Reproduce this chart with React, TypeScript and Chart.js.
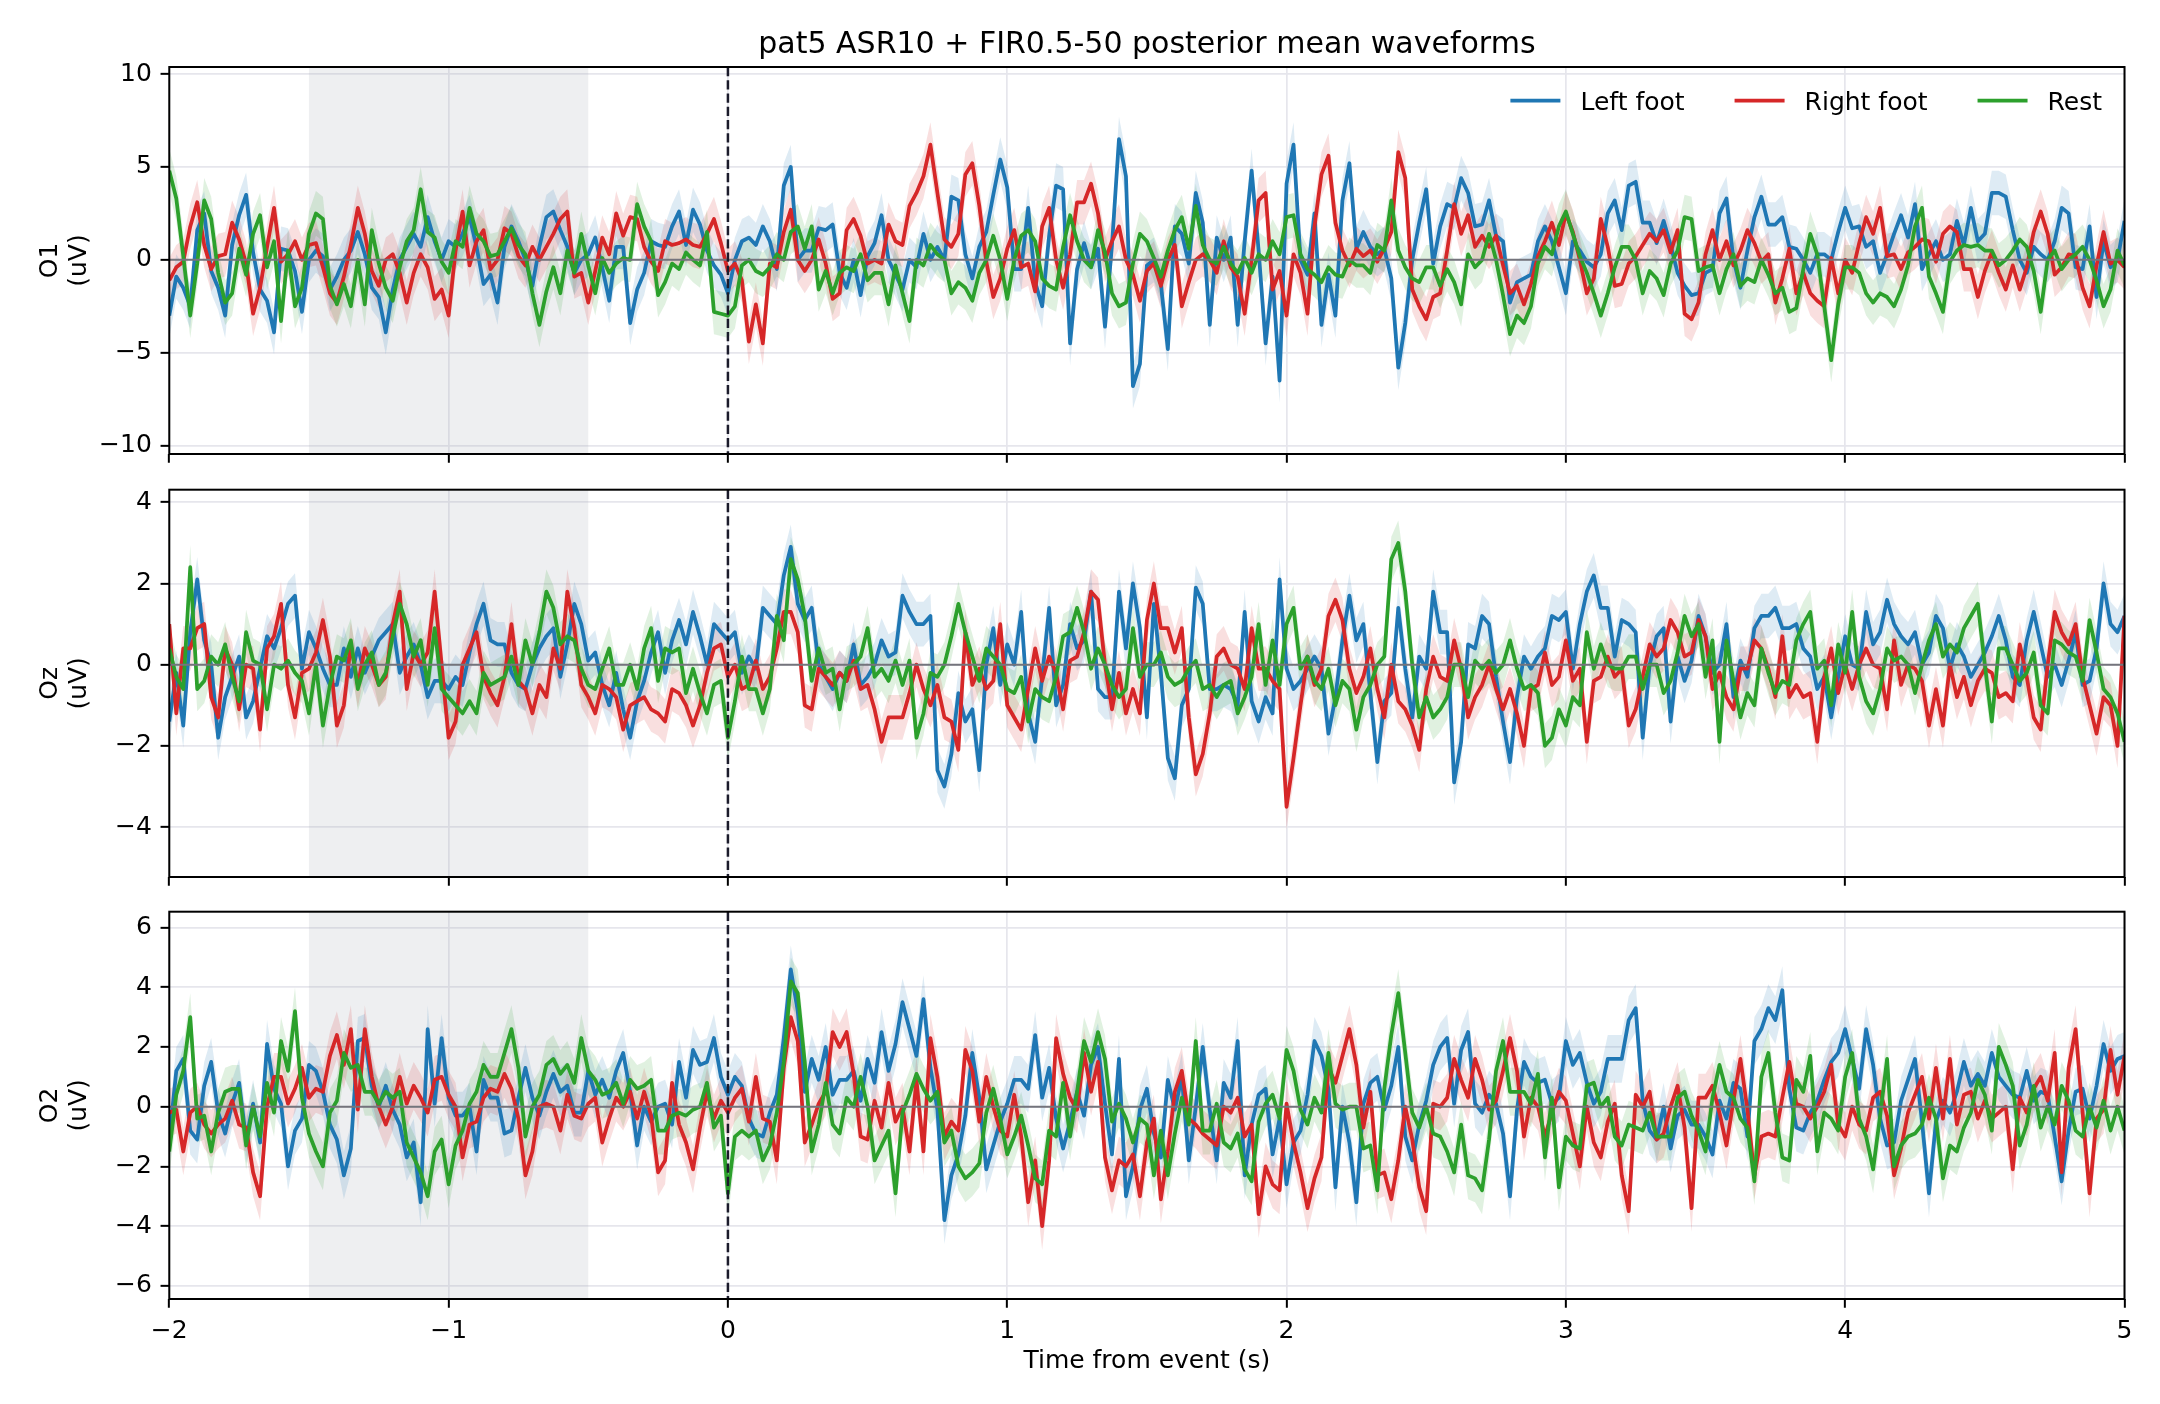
import { useEffect, useRef } from "react";
import { Chart, registerables } from "chart.js";

Chart.register(...registerables);

const FONT = "'DejaVu Sans', 'Liberation Sans', sans-serif";
Chart.defaults.font.family = FONT;
Chart.defaults.color = "#000";

const TITLE = "pat5 ASR10 + FIR0.5-50 posterior mean waveforms";
const X_LABEL = "Time from event (s)";
const UNIT_LABEL = "(uV)";
const CONDITIONS = ["Left foot", "Right foot", "Rest"];
const LINE_COLORS = ["#1f77b4", "#d62728", "#2ca02c"];
const BAND_COLORS = ["rgba(31,119,180,0.15)", "rgba(214,39,40,0.15)", "rgba(44,160,44,0.15)"];

// sampling grid of the averaged epochs (seconds)
const T_START = -2;
const T_STEP = 0.025;
const X_MIN = -2;
const X_MAX = 5;
const X_TICKS = [-2, -1, 0, 1, 2, 3, 4, 5];
const BASELINE_WINDOW = [-1.5, -0.5];
const EVENT_TIME = 0;

// channel O1
const O1_LEFT = [
  -3.0, -0.9, -1.5, -2.5, 1.6, 2.5, -0.6, -1.5, -3.0, 0.8,
  2.4, 3.5, 0.4, -1.6, -2.2, -3.9, 0.6, 0.5, -0.6, -2.8,
  0.0, 0.5, 0.2, -1.6, -0.9, 0.0, 0.5, 1.5, 0.3, -1.5,
  -2.0, -3.9, -1.6, 0.0, 0.7, 1.4, 0.7, 2.3, 1.0, 0.0,
  1.0, 0.7, 1.4, 2.3, 0.7, -1.3, -0.8, -2.3, 0.7, 1.8,
  1.0, 0.0, -1.4, 0.7, 2.3, 2.6, 1.6, 0.7, -0.7, 0.0,
  0.3, 1.2, -0.4, -2.2, 0.7, 0.7, -3.4, -1.6, -0.7, 1.0,
  0.8, 0.7, 1.8, 2.6, 0.8, 2.7, 1.9, 0.5, -0.3, -0.8,
  -1.8, 0.0, 1.0, 1.2, 0.8, 1.8, 1.0, -0.5, 4.0, 5.0,
  0.0, 0.5, 0.5, 1.7, 1.6, 1.9, -0.7, -1.5, 0.0, -1.9,
  0.2, 0.9, 2.4, 0.0, -0.8, -1.6, 0.0, -0.4, 1.4, 0.0,
  0.7, 0.0, 3.4, 3.2, 0.3, -1.0, 0.7, 1.5, 3.5, 5.4,
  3.9, -0.5, -0.5, 2.8, -1.2, -2.5, 1.3, 4.0, 3.8, -4.5,
  -0.5, 0.9, -0.4, 0.6, -3.6, 0.8, 6.5, 4.5, -6.8, -5.6,
  -0.3, 0.0, -1.3, -4.8, 1.8, 1.4, -0.2, 3.6, 2.0, -3.5,
  1.2, 0.0, 1.2, -3.5, 1.0, 4.8, 0.5, -4.5, -0.9, -6.5,
  4.1, 6.2, 0.0, -0.8, 2.5, -3.5, -0.8, -3.0, 3.2, 5.2,
  0.6, 1.5, 0.7, 0.3, 0.6, -1.0, -5.8, -3.4, 0.0, 2.0,
  3.8, -0.2, 1.8, 3.0, 2.8, 4.4, 3.6, 1.8, 1.9, 3.2,
  1.3, 1.0, -2.3, -1.2, -1.0, -0.8, 1.0, 1.8, 1.0, -0.4,
  -1.8, 1.0, 0.5, -0.1, -0.4, 0.3, 2.5, 3.2, 1.6, 4.0,
  4.2, 2.0, 2.0, 0.9, 2.1, 0.8, -0.7, -1.4, -1.9, -1.8,
  -0.7, -0.5, 2.5, 3.3, 0.0, -1.5, 0.5, 2.3, 3.4, 1.9,
  1.9, 2.3, 0.7, 0.6, 0.0, -0.7, 0.3, 0.3, 0.0, 1.5,
  2.8, 1.7, 1.8, 0.7, 1.0, -0.7, 0.3, 1.4, 2.4, 1.2,
  3.0, -0.5, 0.3, 1.0, 0.0, 0.3, 2.1, 0.8, 2.8, 1.0,
  1.4, 3.6, 3.6, 3.4, 1.6, 0.0, -0.7, 0.7, 0.3, 0.0,
  1.0, 2.8, 2.5, -0.4, -0.5, 1.8, -2.0, 1.0, -0.4, 0.0,
  2.1,
];
const O1_RIGHT = [
  -1.1, -0.4, -0.1, 1.8, 3.1, 0.8, -0.5, 0.2, 0.3, 2.0,
  1.1, -0.2, -2.9, -1.5, 0.7, 2.8, -0.1, 0.3, 1.0, 0.0,
  0.8, 0.9, -0.4, -1.8, -2.3, -0.9, 0.8, 2.8, 1.4, -0.6,
  -1.4, 0.0, 0.3, -0.7, -2.3, -0.7, 0.3, -0.4, -2.1, -1.6,
  -3.0, 0.5, 2.6, -0.3, 1.0, 1.6, -0.5, 0.0, 1.7, 1.4,
  0.2, -0.3, 0.7, 0.0, 0.7, 1.4, 2.2, 2.6, -0.9, -0.7,
  -2.3, -0.6, 1.2, 0.3, 2.5, 1.3, 2.3, 2.2, 0.7, -0.1,
  -0.6, 1.0, 0.8, 0.9, 1.1, 0.8, 0.7, 1.4, 2.2, 0.9,
  -0.6, -0.2, -1.1, -4.4, -2.4, -4.5, -0.2, -0.4, 1.5, 2.7,
  0.0, -0.6, 0.0, 1.1, -0.2, -2.1, -1.8, 1.6, 2.2, 1.3,
  -0.2, 0.0, -0.2, 1.9, 1.0, 0.8, 2.9, 3.6, 4.5, 6.2,
  3.6, 1.1, 0.7, 1.4, 4.6, 5.2, 2.9, -0.1, -2.0, -1.0,
  0.6, 1.6, -0.4, -0.2, -1.7, 1.8, 2.8, 0.0, -1.5, 0.3,
  3.1, 3.1, 4.1, 2.5, 0.0, 1.0, 1.8, 0.0, -0.8, -2.2,
  -0.6, -0.2, -1.4, 0.0, 0.8, -2.5, -1.2, 0.0, 0.3, 0.0,
  -0.7, 1.0, -0.4, -0.9, -2.9, 0.0, 3.2, 3.6, -1.6, -0.6,
  -3.0, 0.3, -0.7, -2.9, 1.8, 4.6, 5.6, 2.0, 0.5, -0.3,
  0.6, 0.2, 0.5, -0.1, 0.6, 1.5, 5.8, 4.4, -1.6, -2.5,
  -3.2, -2.0, -1.8, 0.5, 3.0, 1.4, 2.4, 0.7, 1.3, 0.7,
  1.3, -0.3, -1.8, -1.4, -2.4, -1.3, 0.2, 1.0, 2.0, 0.8,
  2.5, 1.5, 0.0, -1.8, -1.0, 2.2, 0.7, -1.4, -1.3, -0.2,
  0.2, 0.8, 1.4, 1.0, 1.6, 0.4, 1.6, -2.9, -3.2, -2.3,
  0.3, 1.6, 0.0, 1.0, -0.3, 0.5, 1.6, 0.9, -0.1, 0.3,
  -2.3, -1.0, 0.6, -1.8, -0.7, -1.8, -2.2, -2.5, 0.1, -1.8,
  0.0, -0.7, 0.9, 2.3, 1.4, 2.8, 0.2, 0.3, -0.5, 0.4,
  0.7, 1.1, 1.0, -0.1, 1.4, 1.8, 1.5, -0.5, -0.5, -2.0,
  -0.6, 0.4, -0.7, -1.6, -0.3, -1.6, -0.4, 1.5, 2.6, 1.4,
  -0.8, -0.4, 0.3, 0.2, -1.5, -2.5, -0.3, 1.5, -0.2, 0.0,
  -0.4,
];
const O1_REST = [
  4.8, 3.3, 0.2, -3.0, -0.2, 3.2, 2.2, -0.7, -2.3, -1.8,
  0.6, -0.8, 1.4, 2.4, -0.4, 1.0, -3.3, 0.5, -2.5, -1.5,
  1.4, 2.5, 2.2, -1.4, -2.4, -1.3, -2.5, 0.0, -2.4, 1.6,
  -0.2, -1.5, -2.2, -0.4, 1.0, 1.6, 3.8, 1.5, 1.2, -0.1,
  -0.7, 1.0, 0.7, 2.8, 1.4, 1.0, 0.2, 0.3, 1.0, 1.7,
  0.8, 0.3, -1.8, -3.5, -1.7, -0.4, -1.8, 0.5, -0.7, 1.4,
  -0.3, -1.8, 0.1, -0.7, -0.2, 0.1, 0.0, 3.0, 1.8, 1.0,
  -1.9, -1.2, -0.2, -0.5, 0.4, 0.0, -0.3, 1.5, -2.8, -2.9,
  -3.0, -2.5, -0.3, 0.0, -0.6, -0.8, -0.4, 0.3, 0.0, 1.5,
  1.8, 0.6, 1.8, -1.6, -0.6, -1.8, -0.7, -0.4, -0.6, 0.3,
  -1.1, -0.7, -0.7, -2.4, -0.3, -1.8, -3.3, 0.0, -0.3, 0.8,
  0.3, 0.0, -1.8, -1.2, -1.5, -2.2, -0.7, 0.0, 1.3, 0.0,
  -2.1, 0.0, 1.3, 1.6, 1.0, -1.0, -1.4, -1.6, 0.7, 2.4,
  1.0, 0.0, -0.4, 1.6, 0.4, -1.8, -2.5, -2.3, -0.2, 1.4,
  1.0, 0.1, -0.9, 0.5, 1.6, 2.3, 0.6, 2.9, 0.8, 0.0,
  -0.2, 0.7, -0.2, -0.7, 0.1, -0.7, 0.3, 0.0, 1.0, 0.3,
  2.3, 2.4, 0.3, -0.5, -0.8, -1.2, -0.4, -0.8, -0.9, 0.0,
  -0.3, -0.3, -0.7, 0.8, 0.5, 3.2, 0.5, -0.4, -1.0, -1.2,
  -0.4, -0.4, -1.4, -0.5, -1.2, -2.4, 0.3, -0.4, 0.0, 1.4,
  0.0, -1.9, -4.0, -3.0, -3.4, -2.5, -0.2, 0.7, 0.3, 1.8,
  2.6, 1.4, 0.2, -0.7, -1.8, -3.0, -1.8, -0.4, 0.7, 0.7,
  0.0, -1.8, -0.6, -1.0, -1.9, -0.2, 0.5, 2.3, 2.2, -0.6,
  -0.4, -0.3, -1.8, -0.5, 0.3, -1.4, -1.0, -1.2, 0.0, -0.8,
  -1.8, -1.5, -2.8, -2.6, -0.5, 1.4, 0.3, -2.5, -5.4, -2.4,
  -0.4, -0.4, -0.7, -1.8, -2.3, -1.8, -2.0, -2.5, -1.6, -0.3,
  1.8, 2.8, -0.9, -1.8, -2.8, -0.1, 0.5, 0.8, 0.7, 0.8,
  0.5, 0.5, -0.3, 0.0, 0.5, 1.1, 0.7, -0.6, -2.8, 0.0,
  0.5, -0.5, 0.0, 0.3, 0.7, 0.0, -1.1, -2.5, -1.6, 0.5,
  -0.3,
];

// channel Oz
const OZ_LEFT = [
  -1.4, -0.2, -1.5, 0.8, 2.1, 0.6, 0.0, -1.8, -0.8, -0.3,
  0.2, -1.3, -0.9, -0.1, 0.7, 0.4, 0.9, 1.5, 1.7, -0.1,
  0.8, 0.4, -0.1, -0.5, -0.5, 0.4, -0.3, 0.4, -0.2, 0.2,
  0.6, 0.8, 1.0, -0.2, 0.2, 0.5, 0.0, -0.8, -0.4, -0.4,
  -0.6, -0.3, -0.5, 0.3, 1.0, 1.5, 0.6, 0.5, 0.5, -0.2,
  -0.5, -0.6, 0.0, 0.4, 0.7, 0.9, -0.3, 0.5, 1.5, 1.0,
  0.1, 0.3, -0.5, -1.0, -0.2, -1.1, -1.8, -0.9, -0.4, 0.3,
  0.8, -0.2, 0.6, 1.1, 0.5, 1.3, 0.7, 0.0, 1.0, 0.8,
  0.6, 0.8, -0.2, 0.2, -0.1, 1.4, 1.2, 1.0, 2.2, 2.9,
  1.5, 1.1, 1.4, 0.0, -0.3, -0.6, -0.2, -0.4, 0.5, -0.5,
  -0.3, 0.0, 0.6, 0.2, 0.3, 1.7, 1.3, 1.0, 1.0, 1.2,
  -2.6, -3.0, -2.2, -0.7, -1.4, -1.1, -2.6, 0.0, 0.9, -0.5,
  0.5, 0.0, 1.3, -1.2, -1.9, -0.3, 1.4, -1.0, -0.5, 1.0,
  0.4, 0.6, 1.8, -0.6, -0.8, -0.8, 1.8, 0.4, 2.0, 0.9,
  -1.3, 1.5, -0.2, -2.3, -2.8, -1.0, -0.6, 1.9, 1.5, -0.6,
  -0.6, -0.5, -0.6, -1.0, 1.3, -0.9, -1.4, -0.8, -1.2, 2.1,
  -0.1, -0.6, -0.4, -0.1, 0.2, -0.1, -1.7, -0.8, 0.6, 1.7,
  0.6, 1.0, -0.7, -2.4, -0.9, -0.7, 1.4, -0.1, -1.3, 0.2,
  -0.1, 1.8, 0.8, 0.8, -2.9, -1.9, 0.5, 0.4, 1.2, 1.0,
  -0.3, -1.4, -2.4, -0.8, 0.2, -0.1, 0.2, 0.4, 1.2, 1.1,
  1.3, -0.1, 1.0, 1.8, 2.2, 1.4, 1.4, 0.2, 1.1, 1.0,
  0.8, -1.8, 0.0, 0.7, 0.9, -1.4, 0.2, -0.4, 0.1, 1.2,
  0.7, -0.2, 0.0, 1.0, -0.8, 0.1, -0.3, 0.9, 1.2, 1.2,
  1.4, 0.9, 0.9, 1.0, 0.4, 0.2, -0.6, -0.3, -1.3, -0.3,
  0.7, 0.0, -0.1, 1.3, 0.5, 0.8, 1.6, 1.0, 0.7, 0.5,
  0.8, 0.0, 0.3, 1.2, 0.9, -0.1, 0.5, 0.2, -0.3, 0.0,
  0.3, 0.7, 1.2, 0.6, -0.3, -0.5, 0.6, 1.3, 0.5, -0.3,
  0.0, -0.5, 0.1, 0.8, -0.5, -0.4, 0.4, 2.0, 1.0, 0.8,
  1.2,
];
const OZ_RIGHT = [
  1.0, -1.2, 0.4, 0.4, 0.9, 1.0, -0.8, -1.3, 0.4, 0.0,
  -1.1, 0.0, -0.1, -1.6, 0.4, 0.7, 1.5, -0.5, -1.3, -0.2,
  -0.1, 0.3, 1.1, 0.2, -1.5, -1.0, 0.5, -0.5, 0.4, 0.0,
  -0.5, -0.3, 1.0, 1.8, -0.6, 0.3, 0.0, 0.3, 1.8, 0.0,
  -1.8, -1.4, 0.0, 0.4, 0.8, -0.3, -0.7, -1.0, -0.3, 1.0,
  -0.4, -0.6, -1.2, -0.5, -0.8, 0.4, -0.1, 1.8, 0.9, -0.5,
  -0.8, -1.2, -0.5, -0.6, -0.8, -1.6, -1.0, -0.9, -0.8, -1.1,
  -1.2, -1.4, -0.6, -0.7, -1.0, -1.5, -1.0, -0.2, 0.4, 0.5,
  -0.3, 0.0, -0.6, -0.5, 0.1, -0.6, -0.3, 0.4, 1.3, 1.3,
  0.8, -1.0, -1.1, -0.1, -0.3, -0.5, -0.2, -0.4, 0.1, -0.6,
  -0.5, -1.1, -1.9, -1.3, -1.3, -1.3, -0.7, 0.0, -0.6, -1.0,
  -0.5, -1.3, -1.4, -2.1, 0.8, -0.5, -0.1, -0.6, -0.4, 1.0,
  -1.0, -1.3, -1.6, -0.6, 0.4, -0.4, 0.2, -0.2, -1.1, 0.1,
  0.2, 0.8, 1.8, 1.6, 0.0, -1.1, -0.2, -1.2, -0.6, -1.2,
  1.1, 2.0, 0.9, 0.9, 0.3, 0.9, -1.3, -2.7, -2.2, -1.2,
  0.2, 0.4, 0.0, -0.1, -0.6, 0.9, -0.1, -0.1, -0.4, -0.6,
  -3.5, -2.3, -1.0, 0.2, -0.5, -0.1, 1.2, 1.6, 1.1, -0.1,
  -0.7, -0.3, 0.4, -0.6, -1.3, 0.0, -0.9, -1.1, -1.5, -2.1,
  -0.6, 0.2, -0.3, -0.4, 0.6, -0.1, -1.3, -0.8, -0.5, 0.0,
  -0.6, -1.1, -0.6, -1.2, -2.0, -0.6, -0.5, 0.3, -0.5, -0.3,
  0.6, -0.4, -0.1, -1.9, -0.4, -0.3, 0.2, -0.3, -0.1, -1.5,
  -1.1, -0.3, 0.5, 0.2, 0.4, 1.1, 0.8, 0.2, 0.3, 1.1,
  0.7, -0.6, -0.2, -0.8, -1.1, -0.1, -0.1, 0.6, 0.4, -0.1,
  -0.8, 0.7, -0.8, -0.5, -0.8, -0.7, -1.9, -0.3, 0.4, -0.7,
  0.0, -0.6, 0.0, 0.4, 0.0, -0.1, -1.1, 0.6, -0.5, 0.0,
  -0.1, -0.4, -1.5, -0.6, -1.5, 0.0, -0.8, -0.3, -1.0, -0.4,
  -0.1, -0.2, -0.8, -0.7, -0.9, 0.5, -0.3, -1.3, -1.6, 0.0,
  1.3, 0.8, 0.5, 1.0, -0.3, -1.0, -1.7, -0.8, -1.0, -2.0,
  1.2,
];
const OZ_REST = [
  0.4, -0.3, -0.6, 2.4, -0.6, -0.4, 0.2, 0.0, 0.5, -0.3,
  -0.9, 0.8, 0.1, 0.0, -1.1, 0.0, -0.1, 0.1, -0.2, -0.4,
  -1.2, 0.0, -1.5, -0.5, 0.2, 0.1, 0.6, -0.6, 0.0, 0.3,
  -0.5, -0.2, 0.7, 1.5, 1.0, 0.2, 0.6, -0.5, 0.9, -0.6,
  -0.8, -1.0, -1.2, -0.9, -1.2, -0.2, -0.5, -0.4, -0.3, 0.2,
  -0.5, 0.6, 0.0, 0.8, 1.8, 1.4, 0.5, 0.7, 0.6, -0.1,
  -0.5, -0.6, -0.1, 0.4, -0.5, -0.5, 0.0, -0.6, 0.4, 0.9,
  -0.4, 0.4, 0.3, 0.4, -0.7, -0.1, -0.7, -1.2, -0.5, -0.4,
  -1.8, -0.9, 0.2, -0.6, -0.6, -1.2, -0.6, 1.2, 0.6, 2.6,
  2.1, 1.2, -0.4, 0.4, -0.2, -0.1, -1.1, -0.1, 0.0, 0.2,
  0.9, -0.3, -0.1, -0.4, 0.1, -0.5, 0.1, -1.8, -1.2, -0.2,
  -0.3, 0.0, 0.7, 1.5, 0.8, 0.2, -0.4, 0.4, 0.2, 0.0,
  -0.6, -0.7, -0.3, -1.4, -0.6, -0.8, -0.9, -0.3, 0.7, 0.8,
  1.4, 0.8, -0.1, 0.4, 0.0, -0.5, -0.8, -0.6, 0.9, -0.3,
  0.0, 0.0, 0.3, -0.3, -0.5, -0.4, -0.1, 0.1, -0.6, -0.5,
  -0.8, -0.5, -0.4, -1.2, -0.8, -0.3, 1.0, -0.5, 0.6, -0.5,
  1.0, 1.4, -0.1, 0.2, -0.4, -0.6, -0.1, -1.0, -0.4, -0.6,
  -1.6, -0.8, -0.5, 0.0, 0.2, 2.6, 3.0, 1.8, 0.0, -1.3,
  -0.8, -1.3, -1.1, -0.8, 0.0, 0.0, -0.8, 0.1, -0.1, 0.1,
  -0.2, 0.0, 0.6, -0.1, -0.6, -0.5, -0.7, -2.0, -1.8, -1.1,
  -1.5, -0.8, -1.0, 0.8, -0.1, 0.5, 0.0, -0.1, -0.1, 0.2,
  0.2, -0.6, 0.0, 0.0, -0.7, -0.4, 0.3, 1.2, 0.7, 1.0,
  -0.3, 0.6, -1.9, 0.6, -0.4, -1.3, -0.7, -1.0, 0.4, -0.2,
  -0.7, -0.4, -0.5, 0.6, 1.0, 1.3, -0.1, 0.1, -1.0, 0.5,
  -0.2, 1.3, -0.3, -0.9, -1.2, -0.6, 0.4, 0.1, 0.2, 0.0,
  -0.7, 0.0, 0.6, 1.0, 0.2, 0.5, 0.3, 0.9, 1.2, 1.5,
  0.0, -1.4, 0.4, 0.4, 0.0, -0.4, -0.2, 0.3, -1.0, -1.2,
  0.6, 0.5, 0.3, 0.2, -0.4, 1.1, 0.3, -0.6, -0.8, -1.2,
  -1.9,
];

// channel O2
const O2_LEFT = [
  -1.1, 1.2, 1.6, -0.8, -1.1, 0.7, 1.5, -0.2, -0.9, 0.1,
  0.8, -1.1, 0.1, -1.2, 2.1, 0.6, 0.1, -2.0, -0.8, -0.4,
  1.4, 1.2, 0.5, -0.6, -1.1, -2.3, -1.4, 2.2, 2.3, 0.7,
  0.0, 0.7, -0.1, -0.6, -1.7, -1.2, -3.2, 2.6, 0.1, 2.3,
  0.3, -0.3, -0.3, 0.0, -1.5, 0.9, 0.3, 0.3, -0.9, -0.8,
  0.3, 1.3, 0.3, -0.3, 0.5, 1.1, 0.5, 0.7, -0.2, -0.2,
  1.2, 0.4, 0.9, 0.3, 1.2, 1.8, 0.5, -1.3, 0.0, -0.5,
  0.0, 0.1, -0.6, 1.5, 0.3, 1.9, 1.4, 1.5, 2.3, 1.0,
  0.4, 1.0, 0.7, -0.4, -0.9, -1.0, -0.2, 0.4, 2.3, 4.6,
  3.2, 0.5, 1.6, 0.9, 2.0, 0.4, 0.9, 0.9, 1.2, 0.2,
  1.6, 0.8, 2.5, 1.2, 2.1, 3.5, 2.6, 1.7, 3.6, 1.3,
  -0.1, -3.8, -2.3, -1.6, -0.3, 1.8, 0.3, -2.1, -1.3, -0.5,
  0.1, 0.9, 0.9, 0.6, 2.4, 0.3, 1.3, -0.4, -1.4, -0.5,
  0.5, -0.3, 1.4, 2.0, 0.1, -1.6, 1.6, -3.0, -2.0, -0.1,
  0.6, -0.9, -1.7, 0.9, -0.1, 1.0, -1.8, 0.0, 2.0, -0.1,
  -1.8, 0.8, 0.3, 2.2, -2.3, -0.6, 0.4, 0.6, -1.6, -0.4,
  -2.6, -1.2, -0.8, 0.4, 2.2, 1.7, 0.6, -2.7, 0.0, -1.2,
  -3.2, 0.1, 0.8, 1.0, -0.1, 0.7, 2.0, -1.0, -1.8, -0.6,
  0.2, 1.4, 2.0, 2.3, 0.1, 1.9, 2.5, 0.1, -0.2, 0.4,
  0.1, -0.9, -3.0, -0.1, 1.5, 1.0, 0.8, 0.9, 0.1, 0.3,
  2.2, 1.4, 1.8, 0.8, 0.1, 0.5, 1.6, 1.6, 1.6, 2.9,
  3.3, 0.2, -0.8, -1.1, 0.0, -1.4, -0.3, -0.1, -0.6, -0.6,
  -1.0, -1.6, 0.2, -0.4, 0.8, 0.6, -1.0, 2.2, 2.6, 3.3,
  2.9, 3.9, 0.6, -0.7, -0.8, -0.2, 0.2, 0.9, 1.5, 1.8,
  2.6, 1.6, 0.6, 2.6, 1.4, -0.4, -1.3, -1.2, 0.2, 0.9,
  1.6, -0.5, -2.9, -0.5, 0.2, -0.2, 0.5, 1.5, 0.7, 1.1,
  0.7, 1.8, 1.0, 0.7, 0.4, 0.3, 1.2, 0.2, 0.5, 0.4,
  -1.0, -2.5, -0.8, 0.5, 0.6, -0.4, 0.7, 2.1, 1.2, 1.6,
  1.7,
];
const O2_RIGHT = [
  -0.2, -0.1, -1.5, -0.2, 0.0, -0.6, -0.9, -0.6, -0.4, 0.2,
  -0.6, -0.7, -2.2, -3.0, 0.0, 1.0, 1.0, 0.1, 0.6, 1.3,
  0.3, 0.6, 0.5, 1.7, 2.4, 1.4, 2.6, -0.1, 2.6, 1.0,
  0.0, -0.6, 0.0, 1.0, 0.1, 0.7, 0.3, -0.2, 0.9, 1.0,
  0.4, 0.0, -1.7, -0.6, -0.5, 0.3, 0.6, 0.5, 1.1, 0.6,
  -0.4, -2.3, -1.5, 0.0, 0.1, 0.0, -0.8, 0.4, -0.3, -0.4,
  0.1, 0.3, -1.2, -0.4, 0.3, 0.0, 0.5, -0.4, 0.5, -0.3,
  -2.2, -1.8, 0.8, -0.6, -1.2, -2.1, -0.7, 0.5, -0.4, 0.2,
  -0.2, 0.3, 0.6, -0.5, 1.0, -0.4, -0.5, -1.8, 1.3, 3.0,
  2.2, -1.2, -0.6, 0.1, 0.5, 2.5, 2.0, 2.5, 1.1, -1.0,
  -1.1, 0.2, -0.7, 0.8, -0.5, 0.0, -1.5, 0.9, -1.5, 2.3,
  1.0, -1.0, -0.5, -0.8, 1.9, 1.2, -0.5, 1.0, 0.0, -0.8,
  -1.0, 0.4, -1.0, -3.2, -1.8, -4.0, -1.8, 2.3, 1.1, 0.3,
  -0.1, 1.8, 0.5, 1.5, -1.7, -2.8, -1.8, -2.0, -1.6, -3.0,
  -1.2, -0.4, -3.1, -1.5, 0.5, 1.2, -0.4, -0.6, -0.9, -1.1,
  -1.3, 0.0, -0.2, 0.3, -1.0, -0.6, -3.6, -2.0, -2.6, -2.8,
  0.1, -1.2, -2.2, -3.4, -2.4, -1.7, 1.3, 0.8, 1.7, 2.6,
  1.4, -0.7, 0.5, -2.3, -2.2, -3.1, -1.8, 0.0, -1.1, -2.7,
  -3.5, 0.1, 0.0, 0.3, 1.6, 0.9, 0.3, 1.6, 0.9, -0.1,
  0.2, 1.2, 2.3, 1.2, -1.0, 0.3, 0.0, -1.0, -0.2, 0.5,
  0.2, -0.9, -2.0, 0.0, -1.2, -1.7, -0.5, 0.1, -2.3, -3.5,
  0.4, 0.0, 0.5, -1.1, -0.9, 0.0, 0.7, -0.7, -3.4, 0.3,
  0.3, 0.7, -0.2, -1.3, 0.2, 1.6, -0.1, -2.3, -1.0, -0.9,
  -1.0, 0.3, 1.5, 0.1, 0.0, -0.4, 0.0, 0.5, 1.4, -0.6,
  -1.0, 0.0, -0.6, -0.8, 0.3, 0.5, -0.3, -2.3, -1.4, -0.2,
  0.4, 1.0, -0.4, 1.3, -0.4, 1.6, -0.6, 0.4, 0.5, -0.4,
  0.2, -0.4, -0.2, 0.0, -2.1, 0.3, -0.2, 0.6, 1.0, 0.2,
  1.8, -2.2, 1.3, 2.6, -0.2, -2.9, -0.4, -0.1, 1.9, 0.4,
  1.7,
];
const O2_REST = [
  -1.5, 0.4, 1.2, 3.0, -0.4, -0.3, -1.5, -0.2, 0.5, 0.6,
  0.6, -1.3, 0.0, -1.0, 0.8, -0.2, 2.2, 1.2, 3.2, 0.3,
  -0.9, -1.5, -2.0, -0.2, 0.2, 1.8, 1.3, 1.4, 0.5, 0.5,
  0.1, 0.5, 0.3, 0.5, -1.2, -1.7, -2.2, -3.0, -1.5, -1.1,
  -2.6, -1.3, -0.8, 0.1, 0.5, 1.4, 1.0, 1.0, 1.8, 2.6,
  1.3, -1.0, 0.0, 0.4, 1.4, 1.6, 1.1, 1.4, 0.8, 2.3,
  1.2, 0.9, 0.4, 0.5, 0.8, 0.1, 0.9, 0.6, 0.7, 0.9,
  -0.8, -0.8, -0.3, -0.2, -0.3, -0.1, 0.0, 0.8, -0.7, -0.3,
  -2.9, -1.0, -0.8, -1.0, -0.8, -1.8, -1.3, -0.2, 1.5, 4.2,
  3.8, 1.5, -1.5, -0.6, 0.8, -0.6, -0.9, 0.3, 0.0, 1.0,
  0.0, -1.8, -1.3, -0.8, -2.9, -0.2, 0.4, 1.1, 0.6, 0.2,
  0.5, -1.2, -0.8, -2.0, -2.4, -2.2, -1.9, -0.2, 0.6, -0.4,
  -1.6, -1.0, -0.3, -1.3, -2.4, -2.6, -0.8, -1.0, 0.8, -1.0,
  0.5, 2.2, 1.5, 2.5, 1.6, -0.5, 0.1, -0.4, -1.2, -0.4,
  -0.6, -2.3, -0.8, -2.3, -0.9, 0.3, -0.6, 2.2, -0.8, -0.8,
  0.1, -1.2, -1.4, -0.9, -2.1, -2.5, -0.5, 0.1, 0.4, -0.4,
  1.9, 1.2, -0.1, -0.6, 0.3, -0.2, 1.8, 0.1, -0.1, 0.0,
  0.0, -1.4, -1.3, -2.8, 0.6, 2.4, 3.8, 1.8, -0.2, -0.7,
  0.0, -0.9, -1.0, -1.5, -2.2, -0.6, -2.3, -2.4, -2.8, -1.1,
  1.2, 2.2, 0.5, 0.5, 0.5, 0.1, 1.1, -1.7, 0.3, -2.7,
  -1.0, -1.3, -1.4, 0.7, 0.8, 0.0, 0.3, -1.0, -1.3, -0.6,
  -0.7, -0.8, -0.2, -1.0, -1.0, -1.0, 0.3, 0.5, -0.3, -0.8,
  -1.5, 0.3, 1.4, 0.5, 0.3, -0.4, -0.7, -2.5, 1.0, 1.8,
  -0.2, -1.7, -1.8, 0.9, 0.5, 1.7, -1.5, -0.2, -0.4, -0.8,
  1.0, 1.8, -0.4, -1.0, -2.1, -0.3, 1.6, -2.0, -1.3, -1.0,
  -0.9, -0.6, 0.3, -0.4, -2.4, -1.3, -1.5, -0.7, -0.2, 0.9,
  0.4, -0.8, 2.0, 1.4, 0.7, -1.3, -0.6, 0.7, -0.7, 0.0,
  -0.6, 0.7, 0.2, -0.8, -1.0, 0.0, -0.7, 0.2, -0.8, 0.0,
  -0.8,
];

// half-width of the posterior interval drawn around each mean
const O1_BAND = 1.2;
const OZ_BAND = 0.55;
const O2_BAND = 0.8;

const O1_TICKS = [-10, -5, 0, 5, 10];
const OZ_TICKS = [-4, -2, 0, 2, 4];
const O2_TICKS = [-6, -4, -2, 0, 2, 4, 6];

const O1_RANGE = [-10.45, 10.38];
const OZ_RANGE = [-5.23, 4.31];
const O2_RANGE = [-6.44, 6.53];

function fmtTick(v: number): string {
  const r = Math.round(v * 100) / 100;
  return r < 0 ? "\u2212" + String(-r) : String(r);
}

const decorPlugin = {
  id: "panelDecor",
  beforeDatasetsDraw(chart: any) {
    const { ctx, chartArea: a, scales } = chart;
    const l = scales.x.getPixelForValue(BASELINE_WINDOW[0]);
    const r = scales.x.getPixelForValue(BASELINE_WINDOW[1]);
    ctx.save();
    ctx.fillStyle = "rgba(160,165,175,0.18)";
    ctx.fillRect(l, a.top, r - l, a.bottom - a.top);
    ctx.restore();
  },
  afterDatasetsDraw(chart: any, _args: any, opts: any) {
    const { ctx, chartArea: a, scales } = chart;
    ctx.save();
    // zero reference
    const y0 = scales.y.getPixelForValue(0);
    ctx.strokeStyle = "#74747c";
    ctx.lineWidth = 2;
    ctx.beginPath();
    ctx.moveTo(a.left, y0);
    ctx.lineTo(a.right, y0);
    ctx.stroke();
    // event onset
    const xe = scales.x.getPixelForValue(EVENT_TIME);
    ctx.strokeStyle = "#1b1b2b";
    ctx.lineWidth = 2.5;
    ctx.setLineDash([9.25, 4]);
    ctx.beginPath();
    ctx.moveTo(xe, a.top);
    ctx.lineTo(xe, a.bottom);
    ctx.stroke();
    ctx.setLineDash([]);
    // axes frame
    ctx.strokeStyle = "#000";
    ctx.lineWidth = 2;
    ctx.strokeRect(a.left, a.top, a.right - a.left, a.bottom - a.top);
    // condition legend
    if (opts && opts.legend) {
      ctx.font = "25px " + FONT;
      const widths = CONDITIONS.map((c) => ctx.measureText(c).width);
      const handle = 50;
      const pad = 20;
      const gap = 50;
      const total = widths.reduce((s: number, w: number) => s + handle + pad + w, 0) + gap * (CONDITIONS.length - 1);
      let x = a.right - 22.5 - total;
      const y = a.top + 33.5;
      CONDITIONS.forEach((c, i) => {
        ctx.strokeStyle = LINE_COLORS[i];
        ctx.lineWidth = 3.75;
        ctx.beginPath();
        ctx.moveTo(x, y);
        ctx.lineTo(x + handle, y);
        ctx.stroke();
        ctx.fillStyle = "#000";
        ctx.textBaseline = "alphabetic";
        ctx.textAlign = "left";
        ctx.fillText(c, x + handle + pad, y + 9.3);
        x += handle + pad + widths[i] + gap;
      });
    }
    ctx.restore();
  },
};

type PanelProps = {
  channel: string;
  series: number[][];
  band: number;
  range: number[];
  yTicks: number[];
  top: number;
  height: number;
  padTop: number;
  xAxisHeight: number;
  showTitle: boolean;
  showXLabels: boolean;
  showLegend: boolean;
};

function Panel(p: PanelProps) {
  const ref = useRef<HTMLCanvasElement | null>(null);

  useEffect(() => {
    if (!ref.current) return;
    const toPoints = (vals: number[], shift: number) =>
      vals.map((v, k) => ({ x: T_START + k * T_STEP, y: v + shift }));

    const datasets: any[] = [];
    p.series.forEach((vals, i) => {
      datasets.push({
        label: CONDITIONS[i] + " lower",
        data: toPoints(vals, -p.band),
        borderColor: "rgba(0,0,0,0)",
        borderWidth: 1,
        pointRadius: 0,
        fill: false,
        order: 10 + i,
      });
      datasets.push({
        label: CONDITIONS[i] + " upper",
        data: toPoints(vals, p.band),
        borderColor: "rgba(0,0,0,0)",
        borderWidth: 1,
        backgroundColor: BAND_COLORS[i],
        pointRadius: 0,
        fill: "-1",
        order: 10 + i,
      });
    });
    p.series.forEach((vals, i) => {
      datasets.push({
        label: CONDITIONS[i],
        data: toPoints(vals, 0),
        borderColor: LINE_COLORS[i],
        borderWidth: 3.75,
        borderJoinStyle: "round",
        pointRadius: 0,
        fill: false,
        tension: 0,
        order: 2 - i,
      });
    });

    const gridOpts = {
      color: "#e6e6ec",
      lineWidth: 1.7,
      tickColor: "#000",
      tickWidth: 2,
      tickLength: 8.75,
      drawTicks: true,
    };

    const chart = new Chart(ref.current, {
      type: "line",
      data: { datasets },
      plugins: [decorPlugin],
      options: {
        animation: false,
        responsive: false,
        events: [],
        layout: { padding: { top: p.padTop, right: 35.5, bottom: 0, left: 0 } },
        plugins: {
          legend: { display: false },
          tooltip: { enabled: false },
          title: {
            display: p.showTitle,
            text: TITLE,
            color: "#000",
            font: { family: FONT, size: 30, weight: "normal" },
            padding: { top: 27, bottom: 4 },
            fullSize: false,
          },
          panelDecor: { legend: p.showLegend },
        } as any,
        scales: {
          x: {
            type: "linear",
            min: X_MIN,
            max: X_MAX,
            afterBuildTicks: (s: any) => {
              s.ticks = X_TICKS.map((value) => ({ value }));
            },
            afterFit: (s: any) => {
              s.height = p.xAxisHeight;
            },
            grid: gridOpts,
            border: { display: false },
            ticks: {
              display: p.showXLabels,
              padding: 8.75,
              color: "#000",
              font: { family: FONT, size: 25 },
              maxRotation: 0,
              autoSkip: false,
              callback: (v: any) => fmtTick(Number(v)),
            },
            title: {
              display: p.showXLabels,
              text: X_LABEL,
              color: "#000",
              font: { family: FONT, size: 25, lineHeight: 1.2 },
              padding: { top: 0, bottom: 28 },
            },
          },
          y: {
            type: "linear",
            min: p.range[0],
            max: p.range[1],
            afterBuildTicks: (s: any) => {
              s.ticks = p.yTicks.map((value) => ({ value }));
            },
            afterFit: (s: any) => {
              s.width = 169.3;
            },
            grid: gridOpts,
            border: { display: false },
            ticks: {
              padding: 8.75,
              color: "#000",
              font: { family: FONT, size: 25 },
              callback: (v: any) => fmtTick(Number(v)),
            },
            title: {
              display: true,
              text: [p.channel, UNIT_LABEL],
              color: "#000",
              font: { family: FONT, size: 25, lineHeight: 1.15 },
              padding: { top: 36, bottom: 0 },
            },
          },
        } as any,
      },
    } as any);

    return () => chart.destroy();
  }, []);

  return (
    <canvas
      ref={ref}
      width={2160}
      height={p.height}
      style={{ position: "absolute", left: 0, top: p.top, width: 2160, height: p.height }}
    />
  );
}

export default function App() {
  return (
    <div
      style={{
        position: "absolute",
        left: 0,
        top: 0,
        width: 2160,
        height: 1404,
        background: "#fff",
        overflow: "hidden",
      }}
    >
      <Panel
        channel="O1"
        series={[O1_LEFT, O1_RIGHT, O1_REST]}
        band={O1_BAND}
        range={O1_RANGE}
        yTicks={O1_TICKS}
        top={0}
        height={494}
        padTop={0}
        xAxisHeight={40}
        showTitle={true}
        showXLabels={false}
        showLegend={true}
      />
      <Panel
        channel="Oz"
        series={[OZ_LEFT, OZ_RIGHT, OZ_REST]}
        band={OZ_BAND}
        range={OZ_RANGE}
        yTicks={OZ_TICKS}
        top={460}
        height={457}
        padTop={29.7}
        xAxisHeight={40}
        showTitle={false}
        showXLabels={false}
        showLegend={false}
      />
      <Panel
        channel="O2"
        series={[O2_LEFT, O2_RIGHT, O2_REST]}
        band={O2_BAND}
        range={O2_RANGE}
        yTicks={O2_TICKS}
        top={882}
        height={522}
        padTop={29.7}
        xAxisHeight={105}
        showTitle={false}
        showXLabels={true}
        showLegend={false}
      />
    </div>
  );
}
